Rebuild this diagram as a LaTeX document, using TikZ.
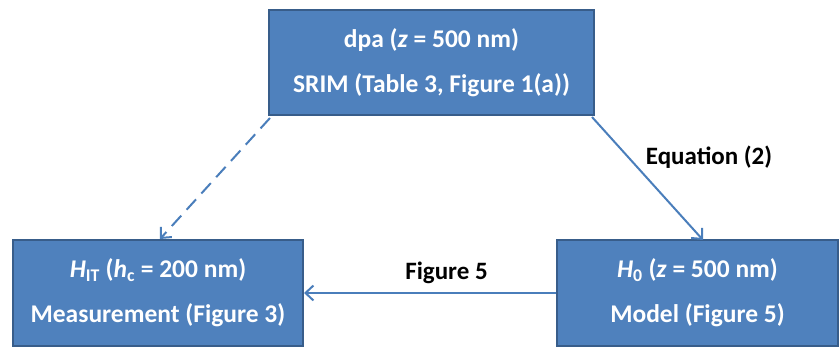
\documentclass[tikz,border=0pt]{standalone}
\usepackage{fontspec}
\setmainfont{Carlito}
\usetikzlibrary{arrows.meta}
\definecolor{boxfill}{HTML}{4F81BD}
\definecolor{boxline}{HTML}{385D8A}
\definecolor{linkblue}{HTML}{4A7EBB}
\newcommand{\lowerline}[1]{\raisebox{-2.5pt}{#1}}
\tikzset{
  blockbox/.style={draw=boxline, line width=2pt, fill=boxfill, text=white,
    font=\bfseries\fontsize{25.5}{45}\selectfont, align=center, inner sep=0pt},
  link/.style={draw=linkblue, line width=2pt,
    -{Straight Barb[length=8pt,width=15pt,line width=2pt]}},
  linklabel/.style={font=\bfseries\fontsize{25}{25}\selectfont, text=black}
}
\begin{document}
\begin{tikzpicture}[x=1pt,y=-1pt]
\useasboundingbox (0,0) rectangle (840,347);
% three blocks
\node[blockbox, minimum width=325pt, minimum height=105pt] (srim) at (431.5,62.5)
  {\lowerline{dpa (\textit{z} = 500 nm)}\\ \lowerline{SRIM (Table 3, Figure 1(a))}};
\node[blockbox, minimum width=290pt, minimum height=106pt] (meas) at (158,293)
  {\lowerline{\textit{H}\textsubscript{IT} (\textit{h}\textsubscript{c} = 200 nm)}\\ \lowerline{Measurement (Figure 3)}};
\node[blockbox, minimum width=281pt, minimum height=106pt] (model) at (697.5,293)
  {\lowerline{\textit{H}\textsubscript{0} (\textit{z} = 500 nm)}\\ \lowerline{Model (Figure 5)}};
% connectors
\coordinate (dashstart) at (270,118);
\coordinate (dashend) at (160,239);
\coordinate (eqstart) at (592,117);
\coordinate (eqend) at (703,240);
\draw[link, dash pattern=on 14pt off 8pt] (dashstart) -- (dashend);
\draw[link] (eqstart) -- (eqend);
\draw[link] (model.west |- 0,293) -- (meas.east |- 0,293);
% labels
\node[linklabel] (eqlabel) at (709,157) {Equation (2)};
\node[linklabel] (figlabel) at (446.5,273) {Figure 5};
\end{tikzpicture}
\end{document}
